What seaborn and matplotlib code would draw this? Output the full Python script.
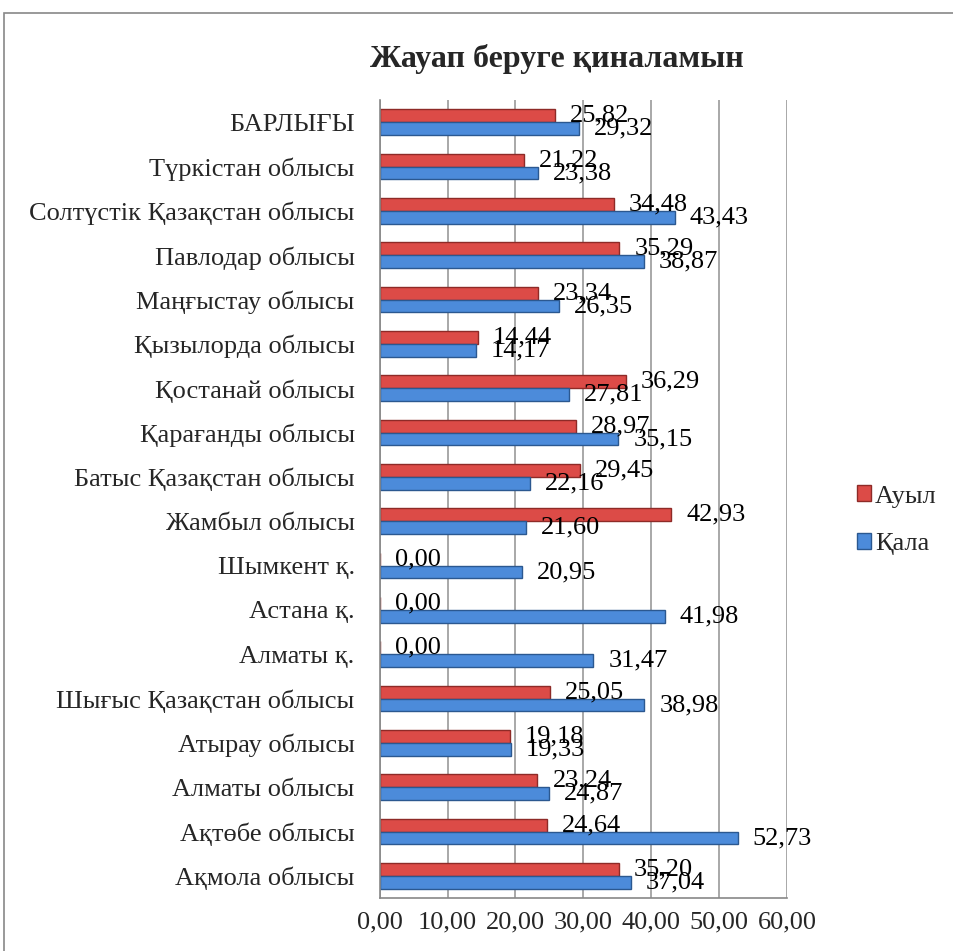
import numpy as np
import pandas as pd
import matplotlib.pyplot as plt
from matplotlib.patches import Rectangle
from matplotlib.ticker import FixedLocator
import seaborn as sns

# categories listed from top of chart to bottom
regions = ["БАРЛЫҒЫ", "Түркістан облысы", "Солтүстік Қазақстан облысы", "Павлодар облысы",
           "Маңғыстау облысы", "Қызылорда облысы", "Қостанай облысы", "Қарағанды облысы",
           "Батыс Қазақстан облысы", "Жамбыл облысы", "Шымкент қ.", "Астана қ.", "Алматы қ.",
           "Шығыс Қазақстан облысы", "Атырау облысы", "Алматы облысы", "Ақтөбе облысы",
           "Ақмола облысы"]
auyl = [25.82, 21.22, 34.48, 35.29, 23.34, 14.44, 36.29, 28.97, 29.45, 42.93,
        0.00, 0.00, 0.00, 25.05, 19.18, 23.24, 24.64, 35.20]
qala = [29.32, 23.38, 43.43, 38.87, 26.35, 14.17, 27.81, 35.15, 22.16, 21.60,
        20.95, 41.98, 31.47, 38.98, 19.33, 24.87, 52.73, 37.04]
series = ["Ауыл", "Қала"]
colors = {"Ауыл": "#DC4B47", "Қала": "#4C8BDA"}
edges = {"Ауыл": "#8E2A27", "Қала": "#2B5890"}

df = pd.DataFrame({"region": regions * 2,
                   "value": auyl + qala,
                   "series": ["Ауыл"] * len(regions) + ["Қала"] * len(regions)})

sns.set_style("white")
plt.rcParams['font.family'] = ['Liberation Serif', 'DejaVu Serif']

fig = plt.figure(figsize=(9.54, 9.51), dpi=100)
ax = fig.add_axes([0.398, 0.0557, 0.427, 0.839])

sns.barplot(data=df, x="value", y="region", hue="series", hue_order=series,
            order=regions, palette=colors, orient="h", width=0.58, ax=ax,
            legend=False, errorbar=None, saturation=1)

for container, name in zip(ax.containers, series):
    for bar in container:
        bar.set_edgecolor(edges[name])
        bar.set_linewidth(1.0)
        w = bar.get_width()
        y = bar.get_y() + bar.get_height() / 2
        ax.text(w + 2.2, y, f"{w:.2f}".replace(".", ","), va="center", ha="left",
                fontsize=19, color="black")

ax.set_xlim(0, 60)
ax.set_ylim(len(regions) - 0.5, -0.5)
ax.set_xticks(np.arange(0, 61, 10))
ax.set_xticklabels([f"{v:.2f}".replace(".", ",") for v in np.arange(0, 61, 10)], fontsize=19)
ax.tick_params(axis="y", which="major", length=0, labelsize=19, pad=18)
ax.yaxis.set_minor_locator(FixedLocator(np.arange(-0.5, len(regions), 1.0)))
ax.tick_params(axis="y", which="minor", length=8, color="#888888", direction="out")
ax.tick_params(axis="x", which="major", length=8, color="#888888", direction="out", pad=2)
ax.set_xlabel("")
ax.set_ylabel("")
ax.grid(axis="x", color="#999999", linewidth=1.2)
ax.set_axisbelow(True)
for side in ["top", "right"]:
    ax.spines[side].set_visible(False)
for side in ["left", "bottom"]:
    ax.spines[side].set_color("#888888")
    ax.spines[side].set_linewidth(1.2)

handles = [Rectangle((0, 0), 1, 1, facecolor=colors[s], edgecolor=edges[s]) for s in series]
fig.legend(handles, series, loc="center left", bbox_to_anchor=(0.873, 0.453),
           frameon=False, fontsize=19, handlelength=0.55, handleheight=0.55,
           handletextpad=0.15, labelspacing=0.95)

fig.text(0.584, 0.938, "Жауап беруге қиналамын", ha="center", va="center",
         fontsize=23, fontweight="bold")

fig.patches.append(Rectangle((4 / 954, -0.1), 1.2, 1 - 13 / 951 + 0.1, transform=fig.transFigure,
                             fill=False, edgecolor="#888888", linewidth=1.2))

fig.savefig("out.png", dpi=100)
